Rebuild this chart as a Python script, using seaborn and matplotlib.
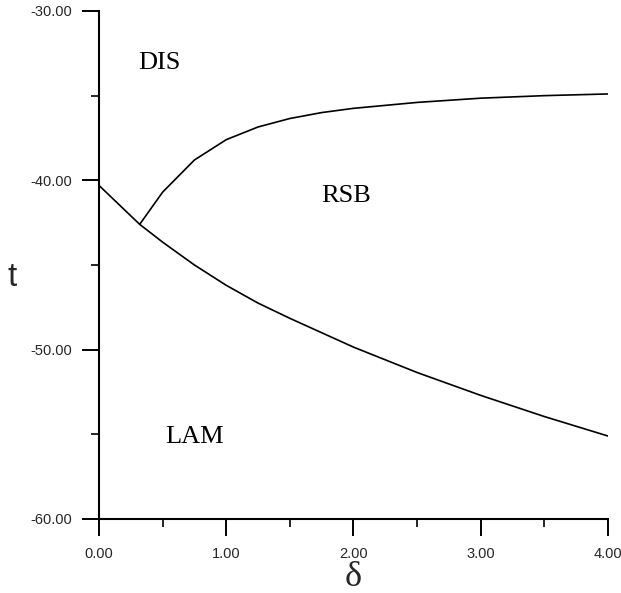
import matplotlib
matplotlib.use('Agg')

import matplotlib.pyplot as plt
import seaborn as sns
import pandas as pd
from matplotlib.ticker import MultipleLocator, FormatStrFormatter

# phase boundaries (delta, t)
lower_delta = [0.0, 0.25, 0.32, 0.5, 0.75, 1.0, 1.25, 1.5, 1.75, 2.0, 2.5, 3.0, 3.5, 4.0]
lower_t = [-40.3, -42.1, -42.6, -43.65, -45.0, -46.2, -47.25, -48.15, -49.0, -49.85, -51.35, -52.7, -53.95, -55.1]

upper_delta = [0.32, 0.5, 0.75, 1.0, 1.25, 1.5, 1.75, 2.0, 2.5, 3.0, 3.5, 4.0]
upper_t = [-42.6, -40.7, -38.8, -37.6, -36.85, -36.35, -36.0, -35.75, -35.4, -35.15, -35.0, -34.9]

phase_names = ["DIS", "RSB", "LAM"]
phase_x = [0.31, 1.75, 0.52]
phase_y = [-33.05, -40.95, -55.15]

sns.set_style("ticks")
plt.rcParams['font.family'] = ['Liberation Sans', 'DejaVu Sans']

lower = pd.DataFrame({"delta": lower_delta, "t": lower_t})
upper = pd.DataFrame({"delta": upper_delta, "t": upper_t})

fig = plt.figure(figsize=(6.21, 5.93), dpi=100)
ax = fig.add_axes([0.1594, 0.1248, 0.8196, 0.8567])

sns.lineplot(data=lower, x="delta", y="t", ax=ax, color="black", lw=1.2,
             sort=False, estimator=None)
sns.lineplot(data=upper, x="delta", y="t", ax=ax, color="black", lw=1.2,
             sort=False, estimator=None)

for name, x, y in zip(phase_names, phase_x, phase_y):
    ax.text(x, y, name, family="Liberation Serif", fontsize=19,
            ha="left", va="center", color="black")

ax.set_xlim(0, 4)
ax.set_ylim(-60, -30)
ax.xaxis.set_major_locator(MultipleLocator(1))
ax.xaxis.set_minor_locator(MultipleLocator(0.5))
ax.yaxis.set_major_locator(MultipleLocator(10))
ax.yaxis.set_minor_locator(MultipleLocator(5))
ax.xaxis.set_major_formatter(FormatStrFormatter('%.2f'))
ax.yaxis.set_major_formatter(FormatStrFormatter('%.2f'))

ax.tick_params(which="major", length=12, width=1.4, labelsize=10.5,
               direction="out", color="black")
ax.tick_params(axis="x", which="major", pad=8.5)
ax.tick_params(axis="y", which="major", pad=7)
ax.tick_params(which="minor", length=6, width=1.2, direction="out", color="black")

sns.despine(ax=ax)
for side in ["left", "bottom"]:
    ax.spines[side].set_linewidth(1.5)
    ax.spines[side].set_color("black")

ax.set_xlabel("")
ax.set_ylabel("")
fig.text(12 / 621, 1 - 277 / 593, "t", family="Liberation Sans", fontsize=24,
         ha="center", va="center")
fig.text(353 / 621, 1 - 577 / 593, "δ", family="Liberation Serif", fontsize=26,
         ha="center", va="center")

fig.savefig("out.png", dpi=100)
plt.close(fig)
